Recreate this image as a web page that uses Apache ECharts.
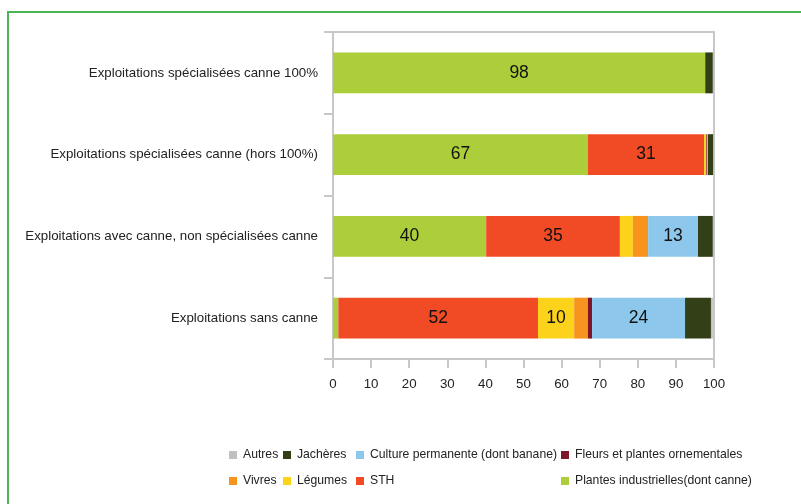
<!DOCTYPE html>
<html>
<head>
<meta charset="utf-8">
<script src="https://cdn.jsdelivr.net/npm/echarts@6/dist/echarts.min.js"></script>
<style>
  html, body { margin: 0; padding: 0; background: #fff; }
  #chart { width: 801px; height: 504px; }
</style>
</head>
<body>
<div id="chart"></div>
<script>
// categories, bottom to top
const categories = [
  'Exploitations sans canne',
  'Exploitations avec canne, non spécialisées canne',
  'Exploitations spécialisées canne (hors 100%)',
  'Exploitations spécialisées canne 100%'
];

// shares (%) per category, same order as categories
const plantesIndustrielles = [1.4, 40.2, 66.9, 97.7];
const sth = [52.4, 35.1, 30.5, 0];
const legumes = [9.5, 3.4, 0.4, 0];
const vivres = [3.6, 4.0, 0.2, 0];
const fleurs = [1.1, 0, 0.2, 0];
const culturePermanente = [24.4, 13.1, 0.2, 0];
const jacheres = [6.8, 3.9, 1.4, 2.0];
const autres = [0.5, 0.3, 0.2, 0.3];

const xTicks = [0, 10, 20, 30, 40, 50, 60, 70, 80, 90, 100];

const font = "'Liberation Sans', Arial, sans-serif";
const gridColor = '#c8c8c8';

const seriesDefs = [
  { name: 'Plantes industrielles(dont canne)', data: plantesIndustrielles, color: '#adce3b' },
  { name: 'STH', data: sth, color: '#f04b25' },
  { name: 'Légumes', data: legumes, color: '#fdd21a' },
  { name: 'Vivres', data: vivres, color: '#f7941e' },
  { name: 'Fleurs et plantes ornementales', data: fleurs, color: '#7d1428' },
  { name: 'Culture permanente (dont banane)', data: culturePermanente, color: '#8dc8ec' },
  { name: 'Jachères', data: jacheres, color: '#323f17' },
  { name: 'Autres', data: autres, color: '#c0c0c0' }
];

const legendText = { fontFamily: font, fontSize: 12.2, color: '#222', padding: [0, 0, 0, 1] };
function legendCol(names, left) {
  return {
    orient: 'vertical',
    left: left,
    top: 449,
    padding: 0,
    itemWidth: 8,
    itemHeight: 8,
    itemGap: 14,
    icon: 'rect',
    textStyle: legendText,
    data: names
  };
}

const chart = echarts.init(document.getElementById('chart'), null, { renderer: 'canvas' });

const option = {
  animation: false,
  color: seriesDefs.map(s => s.color),
  graphic: [{
    type: 'rect',
    shape: { x: 8, y: 12, width: 820, height: 520 },
    style: { fill: 'none', stroke: '#4cb454', lineWidth: 2 },
    silent: true
  }],
  legend: [
    legendCol(['Autres', 'Vivres'], 229),
    legendCol(['Jachères', 'Légumes'], 283),
    legendCol(['Culture permanente (dont banane)', 'STH'], 356),
    legendCol(['Fleurs et plantes ornementales', 'Plantes industrielles(dont canne)'], 561)
  ],
  grid: {
    left: 333, right: 87, top: 32, bottom: 145,
    show: true, borderColor: gridColor, borderWidth: 2
  },
  xAxis: {
    type: 'value',
    min: 0,
    max: 100,
    interval: 10,
    axisLine: { show: true, lineStyle: { color: gridColor, width: 2 } },
    axisTick: { show: true, length: 9, lineStyle: { color: gridColor, width: 2 } },
    splitLine: { show: false },
    axisLabel: {
      margin: 19,
      fontFamily: font, fontSize: 13.3, color: '#222',
      formatter: v => xTicks.includes(v) ? String(v) : ''
    }
  },
  yAxis: {
    type: 'category',
    data: categories,
    axisLine: { show: true, lineStyle: { color: gridColor, width: 2 } },
    axisTick: { show: true, length: 9, lineStyle: { color: gridColor, width: 2 } },
    splitLine: { show: false },
    axisLabel: { margin: 15, fontFamily: font, fontSize: 13.3, color: '#222', padding: [3, 0, 0, 0] }
  },
  series: seriesDefs.map(s => ({
    name: s.name,
    type: 'bar',
    stack: 'total',
    barWidth: '50%',
    data: s.data,
    itemStyle: { color: s.color },
    label: {
      show: true,
      position: 'inside',
      fontFamily: font,
      fontSize: 17.5,
      color: '#111',
      formatter: p => p.value >= 9 ? String(Math.round(p.value)) : ''
    }
  }))
};

chart.setOption(option);
</script>
</body>
</html>
